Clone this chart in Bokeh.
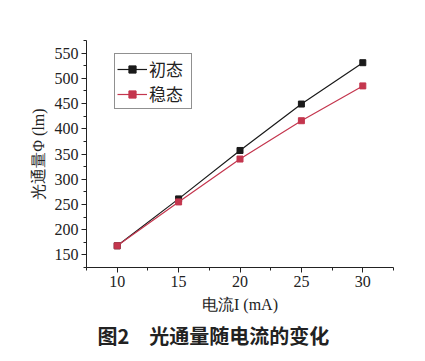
from bokeh.plotting import figure
from bokeh.embed import file_html
from bokeh.resources import INLINE
from bokeh.models import SingleIntervalTicker, Range1d, Legend, LegendItem, Title

current = [10, 15, 20, 25, 30]
initial = [168, 261, 357, 449, 531]
steady = [168, 255, 340, 416, 485]
name_initial = "初态"
name_steady = "稳态"
x_label = "电流I (mA)"
y_label = "光通量Φ (lm)"
caption = "图2\u3000光通量随电流的变化"

p = figure(frame_width=307, frame_height=227, output_backend="svg", toolbar_location=None,
           x_range=Range1d(7.5, 32.5), y_range=Range1d(125, 575),
           min_border_left=86, min_border_top=40, min_border_right=24, min_border_bottom=10)
p.outline_line_color = None
p.xgrid.visible = False
p.ygrid.visible = False
p.background_fill_color = "white"
p.border_fill_color = "white"

black = "#1a1a1a"
red = "#c4364e"
l1 = p.line(current, initial, line_color=black, line_width=1.2)
m1 = p.scatter(current, initial, marker="square", size=6, fill_color=black, line_color=black)
l2 = p.line(current, steady, line_color=red, line_width=1.2)
m2 = p.scatter(current, steady, marker="square", size=6, fill_color=red, line_color=red)

for ax, interval in ((p.xaxis[0], 5), (p.yaxis[0], 50)):
    ax.ticker = SingleIntervalTicker(interval=interval, num_minor_ticks=2)
    ax.major_tick_out = 5
    ax.major_tick_in = 0
    ax.minor_tick_out = 3
    ax.minor_tick_in = 0
    ax.major_label_standoff = 3
    ax.axis_line_color = "#222222"
    ax.major_tick_line_color = "#222222"
    ax.minor_tick_line_color = "#222222"
    ax.major_label_text_font = "Liberation Serif"
    ax.major_label_text_font_size = "16px"
    ax.major_label_text_color = "#222222"
    ax.axis_label_text_font = "Liberation Serif"
    ax.axis_label_text_font_size = "16px"
    ax.axis_label_text_font_style = "normal"
    ax.axis_label_text_color = "#222222"

p.xaxis.axis_label = x_label
p.yaxis.axis_label = y_label
p.xaxis.axis_label_standoff = 6
p.yaxis.axis_label_standoff = 5

legend = Legend(items=[LegendItem(label=name_initial, renderers=[l1, m1]),
                       LegendItem(label=name_steady, renderers=[l2, m2])],
                location=(28, 158))
legend.border_line_color = "#222222"
legend.border_line_width = 1
legend.label_text_font = "Noto Sans CJK SC"
legend.label_text_font_size = "17px"
legend.label_text_color = "#222222"
legend.glyph_width = 30
legend.glyph_height = 18
legend.label_height = 18
legend.label_width = 40
legend.label_standoff = 2
legend.padding = 2
legend.spacing = 0
legend.margin = 0
p.add_layout(legend, "center")

t = Title(text=caption, align="left", offset=11, text_font="Noto Sans CJK SC",
          text_font_size="20px", text_font_style="bold", text_color="#222222",
          standoff=6)
p.add_layout(t, "below")

open("out.html", "w").write(file_html(p, INLINE))
